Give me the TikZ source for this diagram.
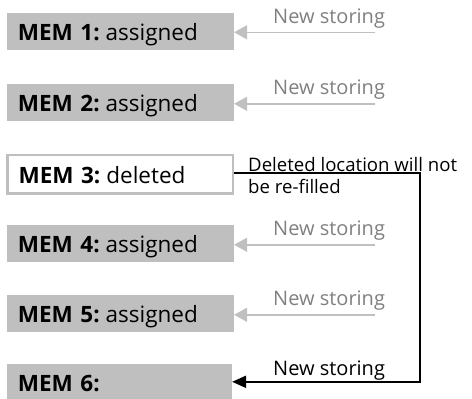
\documentclass[tikz,border=0pt]{standalone}
\usepackage{fontspec}
\setmainfont{Open Sans}
\usetikzlibrary{arrows.meta,calc}
\definecolor{boxgray}{HTML}{BFBFBF}
\definecolor{arrgray}{HTML}{C0C0C0}
\definecolor{txtgray}{HTML}{808080}
\begin{document}
\begin{tikzpicture}[x=1pt,y=-1pt,
  membox/.style={fill=boxgray, draw=none, anchor=north west, minimum height=37pt,
    text width=205pt, inner xsep=11pt, inner ysep=0pt, align=left,
    text height=18pt, text depth=0pt,
    font=\fontsize{22.5}{24}\selectfont},
  delbox/.style={membox, fill=white, draw=boxgray, line width=2.5pt},
  grayarrow/.style={draw=arrgray, line width=1.6pt, -{Triangle[length=13pt,width=14pt]}},
  blackarrow/.style={draw=black, line width=2pt, -{Triangle[length=14pt,width=12pt]}},
  newlbl/.style={anchor=base west, inner sep=0pt, font=\fontsize{20}{22}\selectfont},
]
\useasboundingbox (0,0) rectangle (472,399);
\node[membox] (m1) at (6.7,12.5) {\textbf{MEM 1:}\hspace{6pt}assigned};
\node[membox] (m2) at (6.7,83.5) {\textbf{MEM 2:}\hspace{6pt}assigned};
\node[delbox, minimum height=38.5pt, text width=203.5pt] (m3) at (6.3,153.5) {\textbf{MEM 3:}\hspace{6pt}deleted};
\node[membox] (m4) at (6.7,224.5) {\textbf{MEM 4:}\hspace{6pt}assigned};
\node[membox] (m5) at (6.7,294.5) {\textbf{MEM 5:}\hspace{6pt}assigned};
\node[membox, text width=203pt] (m6) at (6.7,363.5) {\textbf{MEM 6:}};

\foreach \i/\yy in {1/32.3, 2/103.8, 4/244.8, 5/314.8} {
  \coordinate (s\i) at (375,\yy);
  \draw[grayarrow] (s\i) -- (s\i -| m\i.east);
  \node[newlbl, text=txtgray] (l\i) at (273,\yy-9.2) {New storing};
}

\coordinate (c1) at (420,173.3);
\coordinate (c2) at (420,381.8);
\draw[blackarrow] (m3.east |- c1) -- (c1) -- (c2) -- (c2 -| m6.east);
\node[newlbl] (l6) at (273,375) {New storing};
\node[anchor=base west, inner sep=0pt, align=left, font=\fontsize{18.6}{22}\selectfont] (dl) at (248,193.3) {Deleted location will not\\be re-filled};
\end{tikzpicture}
\end{document}
